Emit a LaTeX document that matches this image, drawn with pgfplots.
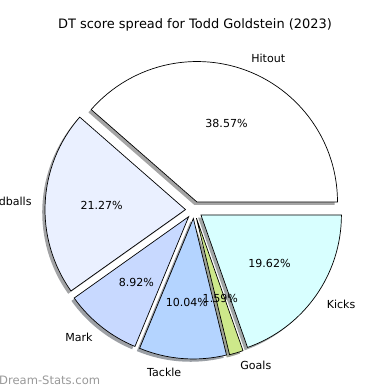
\documentclass[border=0pt]{standalone}
\usepackage{pgfplots}
\pgfplotsset{compat=1.18}
\usepackage{pgfplotstable}
\usepackage{fontspec}
\setmainfont{DejaVu Sans}
\definecolor{pc0}{HTML}{FFFFFF}
\definecolor{pc1}{HTML}{EAF0FF}
\definecolor{pc2}{HTML}{C8D9FF}
\definecolor{pc3}{HTML}{B4D4FF}
\definecolor{pc4}{HTML}{CDE88A}
\definecolor{pc5}{HTML}{D8FFFF}

\pgfplotstableread{
label pct
Hitout 38.57
Handballs 21.27
Mark 8.92
Tackle 10.04
Goals 1.59
Kicks 19.62
}\piedata

\begin{document}
\begin{tikzpicture}
\def\cum{0}
\pgfplotsforeachungrouped \i in {0,...,5}{%
  \pgfplotstablegetelem{\i}{pct}\of\piedata
  \let\p=\pgfplotsretval
  \expandafter\xdef\csname pieP\i\endcsname{\p}%
  \pgfplotstablegetelem{\i}{label}\of\piedata
  \expandafter\xdef\csname pieL\i\endcsname{\pgfplotsretval}%
  \pgfmathsetmacro\s{\cum*3.6/1.0001}%
  \pgfmathsetmacro\cumn{\cum+\p}%
  \pgfmathsetmacro\e{\cumn*3.6/1.0001}%
  \let\cum=\cumn
  \pgfmathsetmacro\m{(\s+\e)/2}%
  \pgfmathsetmacro\cx{194+8.5*cos(\m)}%
  \pgfmathsetmacro\cy{180+8.5*sin(\m)}%
  \pgfmathsetmacro\sx{\cx-2.8}%
  \pgfmathsetmacro\sy{\cy-2.8}%
  \pgfmathsetmacro\lx{\cx+154*cos(\m)}%
  \pgfmathsetmacro\ly{\cy+154*sin(\m)}%
  \pgfmathsetmacro\px{\cx+84*cos(\m)}%
  \pgfmathsetmacro\py{\cy+84*sin(\m)}%
  \pgfmathparse{cos(\m)<0 ? 1 : 0}%
  \ifdim\pgfmathresult pt>0.5pt \def\anc{east}\else\def\anc{west}\fi
  \expandafter\xdef\csname pieS\i\endcsname{\s}%
  \expandafter\xdef\csname pieE\i\endcsname{\e}%
  \expandafter\xdef\csname pieCX\i\endcsname{\cx}%
  \expandafter\xdef\csname pieCY\i\endcsname{\cy}%
  \expandafter\xdef\csname pieSX\i\endcsname{\sx}%
  \expandafter\xdef\csname pieSY\i\endcsname{\sy}%
  \expandafter\xdef\csname pieLX\i\endcsname{\lx}%
  \expandafter\xdef\csname pieLY\i\endcsname{\ly}%
  \expandafter\xdef\csname piePX\i\endcsname{\px}%
  \expandafter\xdef\csname piePY\i\endcsname{\py}%
  \expandafter\xdef\csname pieA\i\endcsname{\anc}%
}
\begin{axis}[at={(0,0)}, anchor=south west, scale only axis,
  width=390bp, height=390bp, xmin=0, xmax=390, ymin=0, ymax=390,
  hide axis, clip=false]
% shadows
\pgfplotsinvokeforeach{0,...,5}{
  \fill[pc#1!30!black, opacity=0.5]
    (axis cs:\csname pieSX#1\endcsname,\csname pieSY#1\endcsname)
    -- ++(\csname pieS#1\endcsname:140.5bp)
    arc[start angle=\csname pieS#1\endcsname, end angle=\csname pieE#1\endcsname, radius=140.5bp]
    -- cycle;
}
% wedges
\pgfplotsinvokeforeach{0,...,5}{
  \filldraw[fill=pc#1, draw=black, line width=0.7bp, line join=miter]
    (axis cs:\csname pieCX#1\endcsname,\csname pieCY#1\endcsname)
    -- ++(\csname pieS#1\endcsname:140.5bp)
    arc[start angle=\csname pieS#1\endcsname, end angle=\csname pieE#1\endcsname, radius=140.5bp]
    -- cycle;
}
% labels
\pgfplotsinvokeforeach{0,...,5}{
  \node[anchor=\csname pieA#1\endcsname, inner sep=0pt, font=\fontsize{11.1}{13}\selectfont]
    at (axis cs:\csname pieLX#1\endcsname,\csname pieLY#1\endcsname) {\csname pieL#1\endcsname};
  \node[inner sep=0pt, font=\fontsize{11.1}{13}\selectfont]
    at (axis cs:\csname piePX#1\endcsname,\csname piePY#1\endcsname) {\csname pieP#1\endcsname\%};
}
\node[font=\fontsize{13}{15}\selectfont, inner sep=0pt] at (axis cs:195,365) {DT score spread for Todd Goldstein (2023)};
\node[anchor=west, inner sep=0pt, text=black!40, font=\fontsize{11.6}{13}\selectfont] at (axis cs:-1,10) {Dream-Stats.com};
\end{axis}
\pgfresetboundingbox
\path[use as bounding box] (0,0) rectangle (390bp,390bp);
\end{tikzpicture}
\end{document}
